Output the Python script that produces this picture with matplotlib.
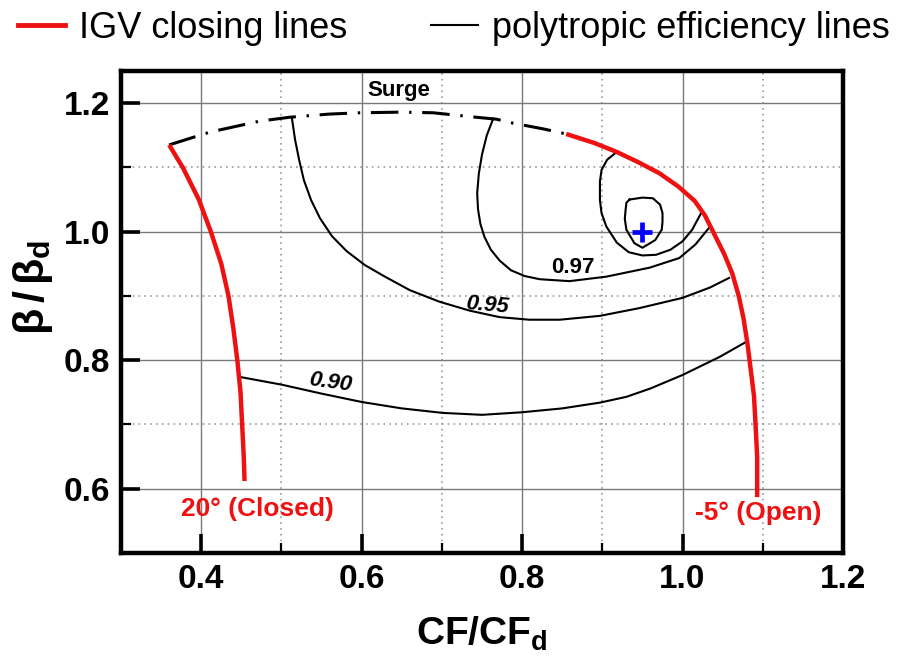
import matplotlib
matplotlib.use("Agg")
import matplotlib.pyplot as plt
from matplotlib.lines import Line2D
from matplotlib.ticker import FixedLocator

plt.rcParams['font.family'] = ['Liberation Sans', 'DejaVu Sans']
plt.rcParams['mathtext.fontset'] = 'custom'
plt.rcParams['mathtext.rm'] = 'Liberation Sans'
plt.rcParams['mathtext.bf'] = 'Liberation Sans:bold'
plt.rcParams['mathtext.it'] = 'Liberation Sans:italic'

# ---------------- data ----------------
x_major = [0.4, 0.6, 0.8, 1.0, 1.2]
x_major_labels = ['0.4', '0.6', '0.8', '1.0', '1.2']
x_minor = [0.5, 0.7, 0.9, 1.1]
y_major = [0.6, 0.8, 1.0, 1.2]
y_major_labels = ['0.6', '0.8', '1.0', '1.2']
y_minor = [0.5, 0.7, 0.9, 1.1]

# IGV closing lines
igv_closed_x = [0.360, 0.377, 0.397, 0.412, 0.425, 0.434, 0.440, 0.445, 0.449, 0.451, 0.453, 0.454]
igv_closed_y = [1.135, 1.100, 1.050, 1.000, 0.950, 0.900, 0.850, 0.800, 0.750, 0.700, 0.650, 0.612]
igv_open_x = [0.855, 0.890, 0.918, 0.945, 0.971, 0.995, 1.015, 1.028, 1.040, 1.052, 1.062, 1.070,
              1.076, 1.081, 1.085, 1.089, 1.091, 1.093, 1.093]
igv_open_y = [1.152, 1.138, 1.124, 1.108, 1.091, 1.070, 1.048, 1.025, 0.995, 0.965, 0.935, 0.900,
              0.865, 0.825, 0.785, 0.745, 0.700, 0.650, 0.587]

# surge line
surge_x = [0.360, 0.411, 0.473, 0.510, 0.560, 0.598, 0.650, 0.689, 0.743, 0.768, 0.788, 0.826, 0.855]
surge_y = [1.135, 1.155, 1.172, 1.178, 1.183, 1.185, 1.186, 1.185, 1.178, 1.175, 1.169, 1.160, 1.152]

# polytropic efficiency lines
eff90_x = [0.448, 0.500, 0.550, 0.600, 0.650, 0.701, 0.750, 0.800, 0.850, 0.897, 0.930, 0.960,
           1.000, 1.046, 1.080]
eff90_y = [0.774, 0.762, 0.748, 0.735, 0.725, 0.718, 0.715, 0.719, 0.725, 0.734, 0.743, 0.756,
           0.777, 0.805, 0.829]

eff95_x = [0.513, 0.517, 0.522, 0.528, 0.537, 0.548, 0.563, 0.581, 0.604, 0.629, 0.660, 0.697,
           0.735, 0.772, 0.809, 0.847, 0.897, 0.946, 1.000, 1.034, 1.058]
eff95_y = [1.177, 1.143, 1.112, 1.080, 1.049, 1.021, 0.993, 0.970, 0.948, 0.930, 0.909, 0.891,
           0.877, 0.867, 0.863, 0.863, 0.869, 0.881, 0.897, 0.913, 0.928]

eff97_x = [0.764, 0.756, 0.750, 0.746, 0.744, 0.745, 0.748, 0.753, 0.761, 0.772, 0.786, 0.803,
           0.822, 0.859, 0.905, 0.959, 0.996, 1.016, 1.033]
eff97_y = [1.176, 1.150, 1.120, 1.090, 1.060, 1.035, 1.012, 0.992, 0.972, 0.955, 0.940, 0.931,
           0.926, 0.923, 0.930, 0.944, 0.959, 0.980, 1.006]

eff98_x = [0.918, 0.906, 0.899, 0.897, 0.897, 0.899, 0.905, 0.918, 0.933, 0.950, 0.967, 0.985,
           1.000, 1.012, 1.024]
eff98_y = [1.124, 1.112, 1.096, 1.078, 1.049, 1.029, 1.008, 0.983, 0.968, 0.963, 0.964, 0.972,
           0.985, 1.003, 1.031]

eff99_x = [0.934, 0.950, 0.963, 0.972, 0.975, 0.975, 0.974, 0.966, 0.950, 0.940, 0.930, 0.928,
           0.929, 0.930, 0.934]
eff99_y = [1.050, 1.053, 1.052, 1.042, 1.029, 1.015, 1.003, 0.987, 0.975, 0.982, 1.003, 1.020,
           1.034, 1.045, 1.050]

design_x = [0.95]
design_y = [1.0]

eff_labels = ['0.90', '0.95', '0.97']
eff_label_x = [0.561, 0.756, 0.863]
eff_label_y = [0.765, 0.886, 0.944]

RED = '#ee1111'

# ---------------- figure ----------------
fig = plt.figure(figsize=(9.02, 6.57), dpi=100)
ax = fig.add_axes([121/902, 1-553/657, (843-121)/902, (553-71)/657])
ax.set_xlim(0.3, 1.2)
ax.set_ylim(0.5, 1.25)

ax.xaxis.set_major_locator(FixedLocator(x_major))
ax.xaxis.set_minor_locator(FixedLocator(x_minor))
ax.yaxis.set_major_locator(FixedLocator(y_major))
ax.yaxis.set_minor_locator(FixedLocator(y_minor))
ax.set_xticklabels(x_major_labels)
ax.set_yticklabels(y_major_labels)

ax.set_axisbelow(True)
ax.grid(which='major', color='#7a7a7a', lw=1.0, ls='-')
ax.grid(which='minor', color='#9a9a9a', lw=1.2, ls=(0, (1, 2.5)))

for s in ax.spines.values():
    s.set_linewidth(3.2)
ax.tick_params(which='major', direction='in', length=13.5, width=2.6,
               labelsize=24, pad=8, top=False, right=False)
ax.tick_params(which='minor', direction='in', length=7.5, width=1.6,
               top=False, right=False)
for lab in ax.get_xticklabels() + ax.get_yticklabels():
    lab.set_fontweight('bold')

# lines
ax.plot(surge_x, surge_y, color='black', lw=2.2, ls=(0, (9, 3.5, 0.8, 3.5)),
        solid_capstyle='butt')
for xs, ys in [(eff90_x, eff90_y), (eff95_x, eff95_y), (eff97_x, eff97_y),
               (eff98_x, eff98_y), (eff99_x, eff99_y)]:
    ax.plot(xs, ys, color='black', lw=1.5, solid_joinstyle='round')
ax.plot(igv_closed_x, igv_closed_y, color=RED, lw=3.2, solid_capstyle='butt',
        solid_joinstyle='round')
ax.plot(igv_open_x, igv_open_y, color=RED, lw=3.2, solid_capstyle='butt',
        solid_joinstyle='round')

ax.plot(design_x, design_y, marker='+', color='#0000ff', ms=14, mew=3.4, ls='none')

# labels in the plot
ax.text(0.646, 1.219, 'Surge', ha='center', va='center', fontsize=16, fontweight='bold')
ax.text(eff_label_x[0], eff_label_y[0], eff_labels[0], ha='center', va='center',
        fontsize=16, fontweight='bold', style='italic', rotation=-8)
ax.text(eff_label_x[1], eff_label_y[1], eff_labels[1], ha='center', va='center',
        fontsize=16, fontweight='bold', style='italic', rotation=-5)
ax.text(eff_label_x[2], eff_label_y[2], eff_labels[2], ha='center', va='center',
        fontsize=16, fontweight='bold')
ax.text(0.375, 0.569, '20° (Closed)', ha='left', va='center', fontsize=19,
        fontweight='bold', color=RED)
ax.text(1.094, 0.563, '-5° (Open)', ha='center', va='center', fontsize=19,
        fontweight='bold', color=RED)

ax.set_xlabel(r'$\mathbf{CF/CF_d}$', fontsize=28, labelpad=14)
ax.set_ylabel(r'$\mathbf{\beta\,/\,\beta_d}$', fontsize=31)
ax.yaxis.set_label_coords(-0.092, 0.55)

handles = [Line2D([], [], color=RED, lw=3.5), Line2D([], [], color='black', lw=1.5)]
fig.legend(handles, ['IGV closing lines', 'polytropic efficiency lines'],
           loc='center left', bbox_to_anchor=(18/902, 1-28/657), ncol=2,
           frameon=False, fontsize=26, handlelength=1.3, handletextpad=0.4,
           columnspacing=2.3, borderpad=0, borderaxespad=0)

fig.savefig('out.png', dpi=100)
